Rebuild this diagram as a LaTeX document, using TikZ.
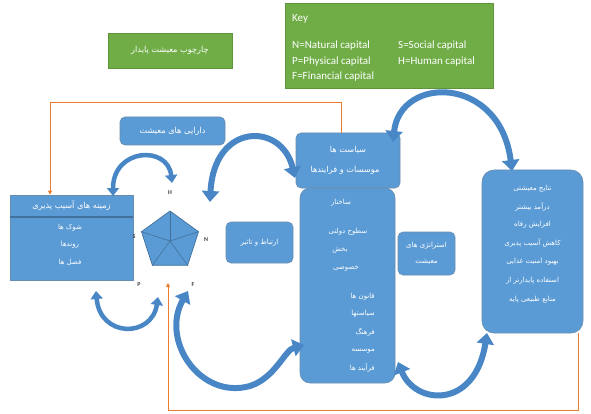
\documentclass[tikz,border=0pt]{standalone}
\usepackage{fontspec}
\setmainfont{Carlito}
\newfontfamily\fa[Script=Arabic]{DejaVu Sans}
\TeXXeTstate=1
\usetikzlibrary{arrows.meta,shapes.geometric}
\definecolor{bl}{RGB}{91,155,213}
\definecolor{bld}{RGB}{65,113,156}
\definecolor{gr}{RGB}{112,173,71}
\definecolor{orn}{RGB}{237,125,49}
\definecolor{arr}{RGB}{72,134,198}
\newcommand{\fat}[1]{\beginR #1\endR}
\begin{document}
\begin{tikzpicture}[x=1pt,y=-1pt,
 bluebox/.style={draw=bld!80, line width=0.6pt, fill=bl, rounded corners=5pt, inner sep=0pt},
 greenbox/.style={fill=gr, draw=gr!85!black, line width=0.5pt, inner sep=0pt},
 fatxt/.style={text=white, font=\fa\fontsize{7}{8}\selectfont, inner sep=0pt, align=center},
 fabig/.style={fatxt, font=\fa\fontsize{8.2}{9}\selectfont},
 keytxt/.style={text=white, font=\fontsize{11}{12}\selectfont, anchor=west, inner sep=0pt},
 blk/.style={draw=arr, line width=6pt, arrows={Triangle[width=17pt,length=11pt]-Triangle[width=17pt,length=11pt]}},
 blks/.style={draw=arr, line width=4.5pt, arrows={Triangle[width=12pt,length=8pt]-Triangle[width=12pt,length=8pt]}},
 orl/.style={draw=orn, line width=0.9pt},
 lbl/.style={font=\bfseries\fontsize{6}{7}\selectfont, text=black!75, inner sep=0pt}]
\useasboundingbox (0,0) rectangle (591,414);

% title and key
\node[greenbox, minimum width=124pt, minimum height=35pt] (title) at (170,50.5) {};
\node[fabig] (titletxt) at (title.center) {\fat{چارچوب معیشت پایدار}};
\node[greenbox, minimum width=208pt, minimum height=85pt] (key) at (389,45.5) {};
\node[keytxt] (k0) at (292,19) {Key};
\node[keytxt] (k1) at (292,46) {N=Natural capital};
\node[keytxt] (k2) at (398,46) {S=Social capital};
\node[keytxt] (k3) at (292,62) {P=Physical capital};
\node[keytxt] (k4) at (398,62) {H=Human capital};
\node[keytxt] (k5) at (292,77) {F=Financial capital};

% boxes
\node[bluebox, minimum width=105pt, minimum height=28pt] (assets) at (172.5,131) {};
\node[fabig] (assetstxt) at (assets.center) {\fat{دارایی های معیشت}};

\node[draw=bld!80, line width=0.6pt, fill=bl, minimum width=123pt, minimum height=85pt, inner sep=0pt] (vuln) at (71.5,237.5) {};
\draw[bld, line width=1.2pt] (vuln.west |- 0,217) coordinate (vl) -- (vuln.east |- 0,217) coordinate (vr);
\node[fabig] (vh) at (71.5,206) {\fat{زمینه های آسیب پذیری}};
\node[fatxt] (v1) at (70,228) {\fat{شوک ها}};
\node[fatxt] (v2) at (70,245) {\fat{روندها}};
\node[fatxt] (v3) at (70,262) {\fat{فصل ها}};

\node[regular polygon, regular polygon sides=5, minimum size=60pt, inner sep=0pt, draw=bld, line width=0.7pt, fill=bl] (pent) at (170,241) {};
\foreach \i in {1,...,5} \draw[bld, line width=0.6pt] (pent.center) -- (pent.corner \i);
\node[lbl] (H) at (170,193) {H};
\node[lbl] (N) at (206,240) {N};
\node[lbl] (S) at (134,237) {S};
\node[lbl] (P) at (139,285) {P};
\node[lbl] (F) at (193,285) {F};

\node[bluebox, minimum width=67pt, minimum height=41pt] (link) at (259.5,242.5) {};
\node[fatxt] (linktxt) at (link.center) {\fat{ارتباط و تاثیر}};

\node[bluebox, minimum width=104pt, minimum height=55pt] (policies) at (348,160.5) {};
\node[fabig] (pol1) at (348,150) {\fat{سیاست ها}};
\node[fabig] (pol2) at (345,170) {\fat{موسسات و فرایندها}};

\node[bluebox, rounded corners=10pt, minimum width=95pt, minimum height=195pt] (struct) at (347.5,285.5) {};
\node[fatxt] (s0) at (341,203) {\fat{ساختار}};
\node[fatxt] (s1) at (348,232) {\fat{سطوح دولتی}};
\node[fatxt] (s2) at (340,250) {\fat{بخش}};
\node[fatxt] (s3) at (346,268) {\fat{خصوصی}};
\node[fatxt, anchor=east] (s4) at (375,297) {\fat{قانون ها}};
\node[fatxt, anchor=east] (s5) at (375,314) {\fat{سیاستها}};
\node[fatxt, anchor=east] (s6) at (375,332) {\fat{فرهنگ}};
\node[fatxt, anchor=east] (s7) at (375,351) {\fat{موسسه}};
\node[fatxt, anchor=east] (s8) at (375,368) {\fat{فرآیند ها}};

\node[bluebox, minimum width=57pt, minimum height=43pt] (strat) at (426.5,253.5) {};
\node[fatxt] (st1) at (426.5,246) {\fat{استراتژی های}};
\node[fatxt] (st2) at (426.5,262) {\fat{معیشت}};

\node[bluebox, rounded corners=12pt, minimum width=101pt, minimum height=163pt] (out) at (532.5,251.5) {};
\node[fatxt] (o1) at (532.5,189) {\fat{نتایج معیشتی}};
\node[fatxt] (o2) at (532.5,207) {\fat{درآمد بیشتر}};
\node[fatxt] (o3) at (532.5,225) {\fat{افزایش رفاه}};
\node[fatxt] (o4) at (532.5,243) {\fat{کاهش آسیب پذیری}};
\node[fatxt] (o5) at (532.5,262) {\fat{بهبود امنیت غذایی}};
\node[fatxt] (o6) at (532.5,281) {\fat{استفاده پایدارتر از}};
\node[fatxt] (o7) at (532.5,300) {\fat{منابع طبیعی پایه}};

% orange feedback lines
\coordinate (ot) at (341,102);
\draw[orl, -{Triangle[width=4pt,length=4pt]}] (policies.north -| 341,0) -- (ot) -| (vuln.north -| 50,0);
\coordinate (ob) at (578,410);
\draw[orl, -{Triangle[width=4pt,length=4pt]}] (out.south -| 578,0) -- (ob) -| (168,283);

% curved block arrows
\draw[blks] (113,196) .. controls (113,148) and (168,145) .. (172,183);
\draw[blk] (210,202) .. controls (214,122) and (282,122) .. (295,178);
\draw[blks] (96,291) .. controls (100,338) and (152,338) .. (158,297);
\draw[blk] (188,291) .. controls (160,340) and (200,400) .. (250,386) .. controls (275,378) and (285,350) .. (304,345);
\draw[blk] (398,362) .. controls (415,405) and (475,410) .. (487,333);
\draw[blk] (393,142) .. controls (400,75) and (500,75) .. (512,171);
\end{tikzpicture}
\end{document}
